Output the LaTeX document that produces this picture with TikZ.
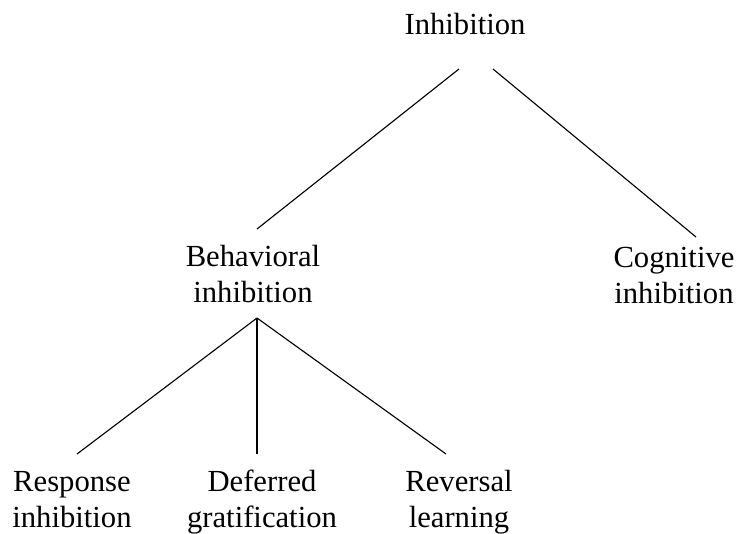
\documentclass[tikz,border=0pt]{standalone}
\usepackage{fontspec}
\setmainfont{Liberation Serif}

\begin{document}
\begin{tikzpicture}[-,x=0.025cm,y=-0.025cm,line width=0.8pt,term node/.style={anchor=base,align=center,inner sep=0pt,font=\fontsize{21.8}{25.2}\selectfont}]
                \useasboundingbox (0,0) rectangle (739,534);
                \node[term node] (inh) at (465,34) {Inhibition};
                \node[term node] (beh) at (253,302) {Behavioral\\inhibition};
                \node[term node] (cog) at (674,303) {Cognitive\\inhibition};
                \node[term node] (resp) at (72,527) {Response\\inhibition};
                \node[term node] (defer) at (262,527) {Deferred\\gratification};
                \node[term node] (rev) at (459,527) {Reversal\\learning};

                \path[draw]
                    ([shift={(-6,35)}]inh.base) edge ([shift={(4,-73)}]beh.base)
                    ([shift={(28,35)}]inh.base) edge ([shift={(22,-66)}]cog.base)
                    ([shift={(4,16)}]beh.base) edge ([shift={(5,-73)}]resp.base)
                    ([shift={(4,16)}]beh.base) edge ([shift={(-5,-73)}]defer.base)
                    ([shift={(4,16)}]beh.base) edge ([shift={(-13,-73)}]rev.base)
                    ;
            \end{tikzpicture}
\end{document}
